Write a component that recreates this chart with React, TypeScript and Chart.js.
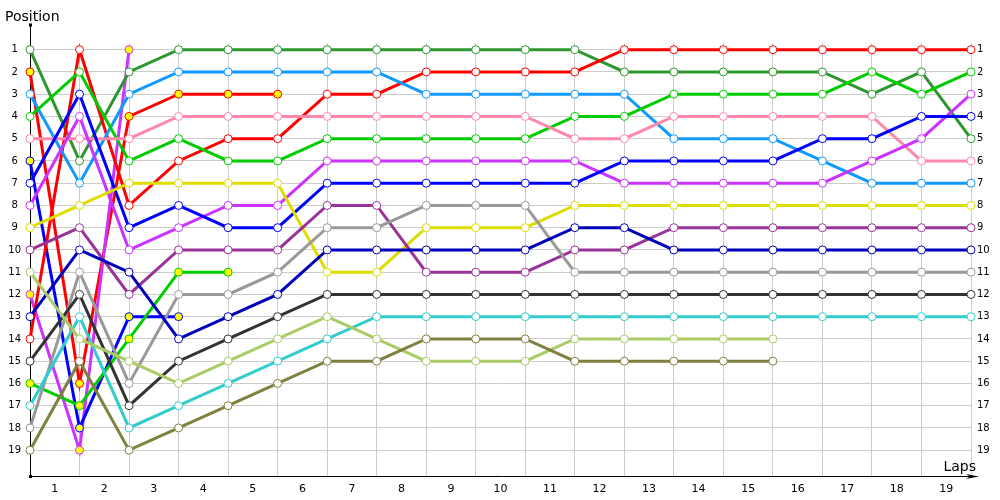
import React, { useEffect, useRef } from "react";
import { Chart, registerables } from "chart.js";

Chart.register(...registerables);

// Lap indices (x values), lap 0 = grid/start
const LAPS = [0, 1, 2, 3, 4, 5, 6, 7, 8, 9, 10, 11, 12, 13, 14, 15, 16, 17, 18, 19];
// Axis tick labels
const LAP_LABELS = ["1", "2", "3", "4", "5", "6", "7", "8", "9", "10", "11", "12", "13", "14", "15", "16", "17", "18", "19"];
const POSITION_TICKS = [1, 2, 3, 4, 5, 6, 7, 8, 9, 10, 11, 12, 13, 14, 15, 16, 17, 18, 19];

// Positions per lap for each driver
const darkGreen = [1, 6, 2, 1, 1, 1, 1, 1, 1, 1, 1, 1, 2, 2, 2, 2, 2, 3, 2, 5];
const redWinner = [14, 1, 8, 6, 5, 5, 3, 3, 2, 2, 2, 2, 1, 1, 1, 1, 1, 1, 1, 1];
const lightBlue = [3, 7, 3, 2, 2, 2, 2, 2, 3, 3, 3, 3, 3, 5, 5, 5, 6, 7, 7, 7];
const green = [4, 2, 6, 5, 6, 6, 5, 5, 5, 5, 5, 4, 4, 3, 3, 3, 3, 2, 3, 2];
const pink = [5, 5, 5, 4, 4, 4, 4, 4, 4, 4, 4, 5, 5, 4, 4, 4, 4, 4, 6, 6];
const purple = [8, 4, 10, 9, 8, 8, 6, 6, 6, 6, 6, 6, 7, 7, 7, 7, 7, 6, 5, 3];
const blue = [7, 3, 9, 8, 9, 9, 7, 7, 7, 7, 7, 7, 6, 6, 6, 6, 5, 5, 4, 4];
const yellow = [9, 8, 7, 7, 7, 7, 11, 11, 9, 9, 9, 8, 8, 8, 8, 8, 8, 8, 8, 8];
const darkPurple = [10, 9, 12, 10, 10, 10, 8, 8, 11, 11, 11, 10, 10, 9, 9, 9, 9, 9, 9, 9];
const gray = [18, 11, 16, 12, 12, 11, 9, 9, 8, 8, 8, 11, 11, 11, 11, 11, 11, 11, 11, 11];
const navy = [13, 10, 11, 14, 13, 12, 10, 10, 10, 10, 10, 9, 9, 10, 10, 10, 10, 10, 10, 10];
const darkGray = [15, 12, 17, 15, 14, 13, 12, 12, 12, 12, 12, 12, 12, 12, 12, 12, 12, 12, 12, 12];
const cyan = [17, 13, 18, 17, 16, 15, 14, 13, 13, 13, 13, 13, 13, 13, 13, 13, 13, 13, 13, 13];
const lightOlive = [11, 14, 15, 16, 15, 14, 13, 14, 15, 15, 15, 14, 14, 14, 14, 14];
const olive = [19, 15, 19, 18, 17, 16, 15, 15, 14, 14, 14, 15, 15, 15, 15, 15];
// Retired drivers
const redOut = [2, 16, 4, 3, 3, 3];
const magentaOut = [12, 19, 1];
const blueOut = [6, 18, 13, 13];
const greenOut = [16, 17, 14, 11, 11];

const SERIES: { data: number[]; color: string; retired: boolean }[] = [
  { data: olive, color: "#808040", retired: false },
  { data: lightOlive, color: "#aacc66", retired: false },
  { data: cyan, color: "#33cccc", retired: false },
  { data: darkGray, color: "#333333", retired: false },
  { data: navy, color: "#0000bb", retired: false },
  { data: gray, color: "#999999", retired: false },
  { data: darkPurple, color: "#993399", retired: false },
  { data: yellow, color: "#dddd00", retired: false },
  { data: blue, color: "#0000ff", retired: false },
  { data: purple, color: "#cc33ff", retired: false },
  { data: pink, color: "#ff88aa", retired: false },
  { data: green, color: "#00cc00", retired: false },
  { data: lightBlue, color: "#1199ff", retired: false },
  { data: redWinner, color: "#ff0000", retired: false },
  { data: darkGreen, color: "#2e962e", retired: false },
  { data: greenOut, color: "#00cc00", retired: true },
  { data: blueOut, color: "#0000ff", retired: true },
  { data: magentaOut, color: "#cc33ff", retired: true },
  { data: redOut, color: "#ff0000", retired: true },
];

const decorPlugin = {
  id: "decor",
  beforeDatasetsDraw(chart: any) {
    const { ctx, chartArea } = chart;
    const x0 = Math.round(chartArea.left) + 0.5;
    const y0 = Math.round(chartArea.bottom) + 0.5;
    const tipX = chartArea.right + 8;
    ctx.save();
    ctx.strokeStyle = "#000";
    ctx.fillStyle = "#000";
    ctx.lineWidth = 1;
    ctx.beginPath();
    ctx.moveTo(x0, y0);
    ctx.lineTo(x0, 25);
    ctx.moveTo(x0, y0);
    ctx.lineTo(tipX - 4, y0);
    ctx.stroke();
    // arrow head
    ctx.beginPath();
    ctx.moveTo(tipX - 13, y0 - 2.5);
    ctx.lineTo(tipX, y0);
    ctx.lineTo(tipX - 13, y0 + 2.5);
    ctx.lineTo(tipX - 9, y0);
    ctx.closePath();
    ctx.fill();
    // dots
    ctx.fillRect(x0 - 1.5, 23.5, 3, 3);
    ctx.fillRect(x0 - 1.5, y0 - 1.5, 3, 3);
    // titles
    ctx.font = "14px 'DejaVu Sans'";
    ctx.textBaseline = "alphabetic";
    ctx.textAlign = "left";
    ctx.fillText("Position", 5, 21);
    ctx.textAlign = "right";
    ctx.fillText("Laps", chartArea.right + 5, y0 - 6);
    ctx.restore();
  },
};

export default function App() {
  const ref = useRef<HTMLCanvasElement | null>(null);

  useEffect(() => {
    if (!ref.current) return;
    const datasets = SERIES.map((s) => ({
      data: s.data.map((p, i) => ({ x: LAPS[i], y: p })),
      borderColor: s.color,
      backgroundColor: s.color,
      borderWidth: 3,
      pointRadius: 4,
      pointBorderWidth: 1,
      pointBorderColor: s.color,
      pointBackgroundColor: s.retired ? "#ffff00" : "#ffffff",
      tension: 0,
      clip: false as any,
    }));

    const halfTicks: number[] = [];
    for (let i = 0; i < LAPS.length; i++) {
      halfTicks.push(LAPS[i]);
      if (i < LAP_LABELS.length && i < LAPS.length - 1) halfTicks.push(LAPS[i] + 0.5);
    }

    const chart = new Chart(ref.current, {
      type: "line",
      data: { datasets },
      plugins: [decorPlugin],
      options: {
        animation: false,
        responsive: false,
        events: [],
        layout: { padding: { top: 43, left: 0, right: 0, bottom: 0 } },
        plugins: { legend: { display: false }, tooltip: { enabled: false } },
        scales: {
          x: {
            type: "linear",
            min: LAPS[0],
            max: LAPS[LAPS.length - 1],
            afterBuildTicks: (axis: any) => {
              axis.ticks = halfTicks.map((v) => ({ value: v }));
            },
            afterFit: (scale: any) => {
              scale.height = 24;
            },
            border: { display: false },
            grid: {
              drawTicks: false,
              color: (c: any) =>
                c.tick && Number.isInteger(c.tick.value) ? "#cccccc" : "rgba(0,0,0,0)",
            },
            ticks: {
              autoSkip: false,
              maxRotation: 0,
              padding: 7,
              color: "#000",
              font: { family: "'DejaVu Sans'", size: 11 },
              callback: (v: any) => {
                const n = Number(v);
                if (Number.isInteger(n)) return "";
                const idx = Math.floor(n);
                return LAP_LABELS[idx] ?? "";
              },
            },
          },
          y: {
            type: "linear",
            position: "left",
            reverse: true,
            min: 0.7,
            max: 20.16,
            afterBuildTicks: (axis: any) => {
              axis.ticks = POSITION_TICKS.map((v) => ({ value: v }));
            },
            afterFit: (scale: any) => {
              scale.width = 30;
            },
            border: { display: false },
            grid: { drawTicks: false, color: "#cccccc" },
            ticks: {
              crossAlign: "center",
              padding: 9,
              color: "#000",
              font: { family: "'DejaVu Sans'", size: 10 },
              callback: (v: any) => String(v),
            },
          },
          y2: {
            type: "linear",
            position: "right",
            reverse: true,
            min: 0.7,
            max: 20.16,
            afterBuildTicks: (axis: any) => {
              axis.ticks = POSITION_TICKS.map((v) => ({ value: v }));
            },
            afterFit: (scale: any) => {
              scale.width = 29;
            },
            border: { display: false },
            grid: { display: false, drawTicks: false },
            ticks: {
              padding: 6,
              color: "#000",
              font: { family: "'DejaVu Sans'", size: 10 },
              callback: (v: any) => String(v),
            },
          },
        },
      } as any,
    });
    return () => chart.destroy();
  }, []);

  return (
    <div style={{ position: "fixed", left: 0, top: 0, width: 1000, height: 500, background: "#fff" }}>
      <canvas ref={ref} width={1000} height={500} style={{ width: 1000, height: 500, display: "block" }} />
    </div>
  );
}
